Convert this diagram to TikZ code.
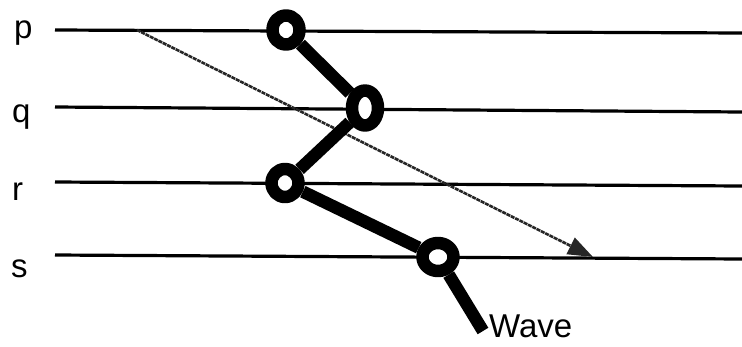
\documentclass[tikz,border=0pt]{standalone}
\usepackage{fontspec}
\setmainfont{Liberation Sans}
\usepackage{tikz}
\usetikzlibrary{positioning,shapes.geometric,arrows.meta}

\begin{document}
\begin{tikzpicture}[x=1pt, y=-1pt, >=Triangle, line cap=butt, line join=round,
		staff/.style={line width=3.2pt},
		ring/.style={ellipse, draw, fill=white, line width=12.5pt, inner sep=0pt},
		wave/.style={line width=12.5pt},
		lbl/.style={anchor=base west, inner sep=0pt, font=\fontsize{33}{38}\selectfont}]
		\useasboundingbox (0,0) rectangle (742,346);
		
		% staff lines
		\coordinate (pL) at (55,30);  \coordinate (pR) at (742,33);
		\coordinate (qL) at (55,107); \coordinate (qR) at (742,112);
		\coordinate (rL) at (55,182); \coordinate (rR) at (742,186);
		\coordinate (sL) at (55,255); \coordinate (sR) at (742,259);
		\draw[staff] (pL) -- (pR);
		\draw[staff] (qL) -- (qR);
		\draw[staff] (rL) -- (rR);
		\draw[staff] (sL) -- (sR);
		
		\node[lbl] (labP) at (14,38) {p};
		\node[lbl] (labQ) at (12,122) {q};
		\node[lbl] (labR) at (12,200) {r};
		\node[lbl] (labS) at (11,277) {s};
		
		% propagation arrow
		\coordinate (aStart) at (137,30);
		\coordinate (aEnd) at (593,257);
		\draw[line width=2.6pt, gray!30!black, dash pattern=on 4pt off 0.8pt,
			arrows={-Triangle[length=25pt, width=18pt]}] (aStart) -- (aEnd);
		
		% wave through the rings
		\node[ring, minimum width=27pt, minimum height=29pt] (P) at (286,30) {};
		\node[ring, minimum width=26pt, minimum height=35pt] (Q) at (365,108) {};
		\node[ring, minimum width=27pt, minimum height=28pt] (R) at (285,183) {};
		\node[ring, minimum width=31pt, minimum height=28pt] (S) at (438,257) {};
		\coordinate (tail) at (483,331);
		\draw[wave] (P) -- (Q) -- (R) -- (S) -- (tail);
		\node[lbl] (waveLbl) at (489,337) {Wave};
	\end{tikzpicture}
\end{document}
